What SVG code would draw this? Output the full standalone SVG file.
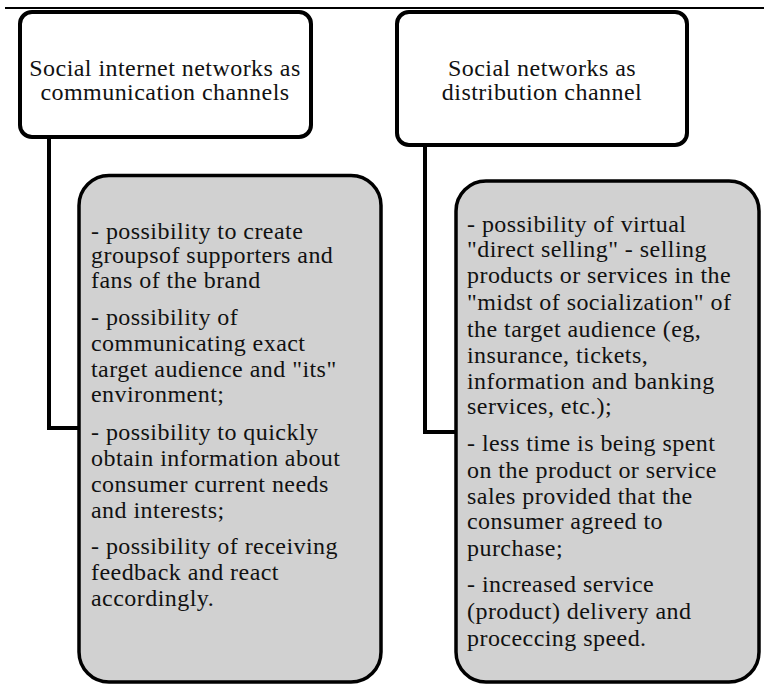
<svg xmlns="http://www.w3.org/2000/svg" width="764" height="685" viewBox="0 0 764 685">
<style>
.head{fill:#fff;stroke:#000;stroke-width:4}
.body{fill:#d1d1d1;stroke:#000;stroke-width:3.5}
.conn{fill:none;stroke:#000;stroke-width:4}
text{font-family:"Liberation Serif","Times New Roman",serif;font-size:24px;fill:#111;letter-spacing:0.45px}
.c{text-anchor:middle}
</style>
<rect width="764" height="685" fill="#fff"/>
<line x1="5" y1="8" x2="764" y2="8" stroke="#000" stroke-width="2"/>
<g id="connectors">
<path class="conn" d="M49 137 V428 H79"/>
<path class="conn" d="M425 145 V432 H456"/>
</g>
<g id="node-comm">
<rect class="head" x="20" y="12" width="291" height="125" rx="12"/>
<text class="c" x="165" y="76">Social internet networks as</text>
<text class="c" x="165" y="100">communication channels</text>
</g>
<g id="node-dist">
<rect class="head" x="397" y="12" width="290" height="133" rx="12"/>
<text class="c" x="542" y="76">Social networks as</text>
<text class="c" x="542" y="100">distribution channel</text>
</g>
<g id="node-comm-list">
<rect class="body" x="79" y="175.5" width="302" height="506.5" rx="30"/>
<text x="91" y="239">- possibility to create</text>
<text x="91" y="263">groupsof supporters and</text>
<text x="91" y="288">fans of the brand</text>
<text x="91" y="325">- possibility of</text>
<text x="91" y="351">communicating exact</text>
<text x="91" y="377">target audience and "its"</text>
<text x="91" y="402">environment;</text>
<text x="91" y="440">- possibility to quickly</text>
<text x="91" y="466">obtain information about</text>
<text x="91" y="492">consumer current needs</text>
<text x="91" y="518">and interests;</text>
<text x="91" y="554">- possibility of receiving</text>
<text x="91" y="580">feedback and react</text>
<text x="91" y="606">accordingly.</text>
</g>
<g id="node-dist-list">
<rect class="body" x="456" y="181" width="303" height="501" rx="30"/>
<text x="467" y="232">- possibility of virtual</text>
<text x="467" y="257">"direct selling" - selling</text>
<text x="467" y="283">products or services in the</text>
<text x="467" y="310">"midst of socialization" of</text>
<text x="467" y="337">the target audience (eg,</text>
<text x="467" y="363">insurance, tickets,</text>
<text x="467" y="389">information and banking</text>
<text x="467" y="414">services, etc.);</text>
<text x="467" y="451">- less time is being spent</text>
<text x="467" y="478">on the product or service</text>
<text x="467" y="504">sales provided that the</text>
<text x="467" y="529">consumer agreed to</text>
<text x="467" y="556">purchase;</text>
<text x="467" y="592">- increased service</text>
<text x="467" y="619">(product) delivery and</text>
<text x="467" y="646">proceccing speed.</text>
</g>
</svg>
